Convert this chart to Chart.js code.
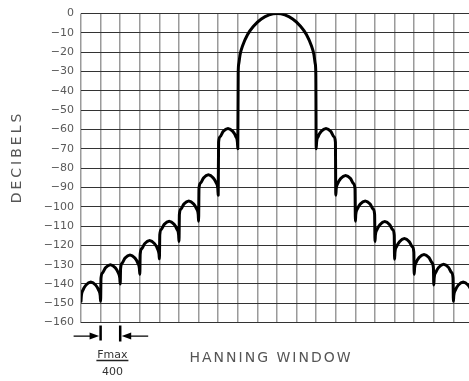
<!DOCTYPE html>
<html>
<head>
<meta charset="utf-8">
<title>Hanning Window</title>
<script src="https://cdn.jsdelivr.net/npm/chart.js@4.4.1/dist/chart.umd.min.js"></script>
<style>
html, body { margin:0; padding:0; background:#fff; overflow:hidden; }
#wrap { width:480px; height:381px; }
</style>
</head>
<body>
<div id="wrap"><canvas id="windowChart" width="480" height="381"></canvas></div>
<script>

// spectrum envelope, x in bins (one bin = Fmax/400), y in dB
let spectrumBin = [
    0, 0.02, 0.1, 0.25, 0.5, 0.75, 0.9, 0.98,
    1, 1.02, 1.1, 1.25, 1.5, 1.75, 1.9, 1.98,
    2, 2.02, 2.1, 2.25, 2.5, 2.75, 2.9, 2.98,
    3, 3.02, 3.1, 3.25, 3.5, 3.75, 3.9, 3.98,
    4, 4.02, 4.1, 4.25, 4.5, 4.75, 4.9, 4.98,
    5, 5.02, 5.1, 5.25, 5.5, 5.75, 5.9, 5.98,
    6, 6.02, 6.1, 6.25, 6.5, 6.75, 6.9, 6.98,
    7, 7.02, 7.1, 7.25, 7.5, 7.75, 7.9, 7.98,
    8, 8.02, 8.05, 8.12, 8.25, 8.5, 8.8, 9.2, 9.6, 10,
    10.4, 10.8, 11.2, 11.5, 11.75, 11.88, 11.95, 11.98,
    12, 12.02, 12.1, 12.25, 12.5, 12.75, 12.9, 12.98,
    13, 13.02, 13.1, 13.25, 13.5, 13.75, 13.9, 13.98,
    14, 14.02, 14.1, 14.25, 14.5, 14.75, 14.9, 14.98,
    15, 15.02, 15.1, 15.25, 15.5, 15.75, 15.9, 15.98,
    16, 16.02, 16.1, 16.25, 16.5, 16.75, 16.9, 16.98,
    17, 17.02, 17.1, 17.25, 17.5, 17.75, 17.9, 17.98,
    18, 18.02, 18.1, 18.25, 18.5, 18.75, 18.9, 18.98,
    19, 19.02, 19.1, 19.25, 19.5, 19.75, 19.9, 19.98,
    20
];

let spectrumDb = [
    -149, -146, -143.2, -140.6, -139, -140.6, -143.2, -146,
    -149, -137, -134.2, -131.6, -130, -131.6, -134.2, -137,
    -140, -132, -129.2, -126.6, -125, -126.6, -129.2, -132,
    -135, -124.5, -121.7, -119.1, -117.5, -119.1, -121.7, -124.5,
    -127, -114.5, -111.7, -109.1, -107.5, -109.1, -111.7, -114.5,
    -118, -104, -101.2, -98.6, -97, -98.6, -101.2, -104,
    -107.5, -90.5, -87.7, -85.1, -83.5, -85.1, -87.7, -90.5,
    -94, -66.5, -63.7, -61.1, -59.5, -61.1, -63.7, -66.5,
    -70, -31, -26, -21, -16.5, -10.8, -6.5, -2.8, -0.7, 0,
    -0.7, -2.8, -6.5, -10.8, -16.5, -21, -26, -31,
    -70, -66.5, -63.7, -61.1, -59.5, -61.1, -63.7, -66.5,
    -94, -90.8, -88, -85.4, -83.8, -85.4, -88, -90.8,
    -107.5, -104, -101.2, -98.6, -97, -98.6, -101.2, -104,
    -118, -114.7, -111.9, -109.3, -107.7, -109.3, -111.9, -114.7,
    -127.2, -123.5, -120.7, -118.1, -116.5, -118.1, -120.7, -123.5,
    -135, -131.7, -128.9, -126.3, -124.7, -126.3, -128.9, -131.7,
    -140.5, -136.8, -134, -131.4, -129.8, -131.4, -134, -136.8,
    -149, -146, -143.2, -140.6, -139, -140.6, -143.2, -146,
    -149
];

let dbTicks = [0, -10, -20, -30, -40, -50, -60, -70, -80, -90, -100, -110, -120, -130, -140, -150, -160];

let binTicks = [0, 1, 2, 3, 4, 5, 6, 7, 8, 9, 10, 11, 12, 13, 14, 15, 16, 17, 18, 19, 20];

let yTitle = "DECIBELS";
let xTitle = "HANNING WINDOW";
let resolutionTop = "Fmax";
let resolutionBottom = "400";

let textColor = "#555";

// titles and the one-bin resolution marker under the grid
let notesPlugin = {

    id: "notes",

    afterDraw(chart){

        let ctx = chart.ctx;
        let area = chart.chartArea;
        let xScale = chart.scales.x;

        let x1 = xScale.getPixelForValue(1);
        let x2 = xScale.getPixelForValue(2);
        let y0 = area.bottom;
        let ay = y0 + 13.5;

        ctx.save();

        ctx.strokeStyle = "#000";
        ctx.fillStyle = "#000";

        ctx.lineWidth = 2.5;
        ctx.beginPath();
        ctx.moveTo(x1, y0 + 3);
        ctx.lineTo(x1, y0 + 18);
        ctx.moveTo(x2, y0 + 3);
        ctx.lineTo(x2, y0 + 19);
        ctx.stroke();

        ctx.lineWidth = 1.2;
        ctx.beginPath();
        ctx.moveTo(x1 - 27, ay);
        ctx.lineTo(x1 - 8, ay);
        ctx.moveTo(x2 + 8, ay);
        ctx.lineTo(x2 + 28, ay);
        ctx.stroke();

        ctx.beginPath();
        ctx.moveTo(x1 - 1.5, ay);
        ctx.lineTo(x1 - 11, ay - 3.5);
        ctx.lineTo(x1 - 11, ay + 3.5);
        ctx.closePath();
        ctx.moveTo(x2 + 1.5, ay);
        ctx.lineTo(x2 + 11, ay - 3.5);
        ctx.lineTo(x2 + 11, ay + 3.5);
        ctx.closePath();
        ctx.fill();

        let mid = (x1 + x2) / 2 + 2;

        ctx.fillStyle = "#333";
        ctx.font = "11px 'DejaVu Sans'";
        ctx.textAlign = "center";
        ctx.textBaseline = "alphabetic";
        ctx.fillText(resolutionTop, mid, y0 + 35.5);
        ctx.fillText(resolutionBottom, mid, y0 + 52.5);

        ctx.strokeStyle = "#222";
        ctx.lineWidth = 1.5;
        ctx.beginPath();
        ctx.moveTo(mid - 16, y0 + 38);
        ctx.lineTo(mid + 16, y0 + 38);
        ctx.stroke();

        ctx.fillStyle = textColor;
        ctx.font = "14px 'DejaVu Sans'";
        ctx.letterSpacing = "2px";
        ctx.textBaseline = "middle";
        ctx.fillText(xTitle, 271, 358.5);

        ctx.translate(17, 157);
        ctx.rotate(-Math.PI / 2);
        ctx.letterSpacing = "3px";
        ctx.fillText(yTitle, 0, 0);

        ctx.restore();
    }
};

new Chart(

    document.getElementById("windowChart"),

    {
        type: "line",

        data: {
            datasets: [{
                data: spectrumBin.map((b, i) => ({ x: b, y: spectrumDb[i] })),
                borderColor: "#000",
                borderWidth: 3,
                pointRadius: 0,
                fill: false,
                cubicInterpolationMode: "monotone",
                borderCapStyle: "round",
                borderJoinStyle: "round"
            }]
        },

        options: {

            responsive: false,
            animation: false,

            layout: {
                padding: { top: 9, right: 7, bottom: 0, left: 0 }
            },

            plugins: {
                legend: { display: false },
                tooltip: { enabled: false }
            },

            scales: {

                x: {
                    type: "linear",
                    min: 0,
                    max: 20,
                    afterBuildTicks: scale => {
                        scale.ticks = binTicks.map(v => ({ value: v }));
                    },
                    afterFit: scale => {
                        scale.height = 58.4;
                    },
                    ticks: { display: false },
                    grid: { color: "#9a9a9a", lineWidth: 1.5, drawTicks: false },
                    border: { display: false }
                },

                y: {
                    min: -160,
                    max: 0,
                    afterBuildTicks: scale => {
                        scale.ticks = dbTicks.map(v => ({ value: v }));
                    },
                    afterFit: scale => {
                        scale.width = 81;
                    },
                    ticks: {
                        padding: 7,
                        color: "#5a5a5a",
                        font: { family: "DejaVu Sans", size: 11 },
                        callback: v => v === 0 ? "0" : "\u2212" + Math.abs(v)
                    },
                    grid: { color: "#333", lineWidth: 1, drawTicks: false },
                    border: { display: false }
                }
            }
        },

        plugins: [notesPlugin]
    }
);

</script>
</body>
</html>
